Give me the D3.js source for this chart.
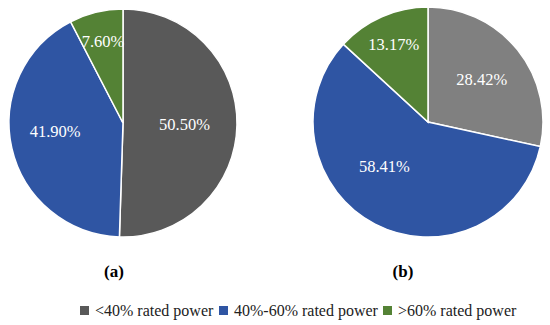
<!DOCTYPE html>
<html>
<head>
<meta charset="utf-8">
<script src="https://cdn.jsdelivr.net/npm/d3@7"></script>
<style>
  body { margin: 0; background: #fff; }
</style>
</head>
<body>
<script>
// data
const categories = ["<40% rated power", "40%-60% rated power", ">60% rated power"];
const valuesA = [50.50, 41.90, 7.60];
const valuesB = [28.42, 58.41, 13.17];
const panelLabels = ["(a)", "(b)"];

const width = 550;
const height = 325;
const font = "'Liberation Serif', 'Times New Roman', serif";

const svg = d3.select('body').append('svg')
    .attr('width', width).attr('height', height)
    .attr('font-family', font);

const colorsA = ["#595959", "#2F55A3", "#548235"];
const colorsB = ["#808080", "#2F55A3", "#548235"];

const pie = d3.pie().sort(null).value(d => d);

function drawPie(values, colors, cx, cy, r, panel, panelX) {
    const g = svg.append('g').attr('transform', `translate(${cx},${cy})`);
    const arc = d3.arc().innerRadius(0).outerRadius(r);
    const arcs = pie(values);

    g.selectAll('path').data(arcs).enter().append('path')
        .attr('d', arc)
        .attr('fill', (d, i) => colors[i])
        .attr('stroke', '#fff').attr('stroke-width', 1.5);

    // 标签位置：小扇区靠外
    g.selectAll('text.lbl').data(arcs).enter().append('text')
        .attr('class', 'lbl')
        .attr('transform', d => {
            const k = d.value < 20 ? 0.74 : (d.value < 45 ? 0.6 : 0.54);
            const a = (d.startAngle + d.endAngle) / 2 + (d.value > 55 ? 0.3 : (d.value < 45 && d.value > 20 && d.index === 1 ? 0.1 : 0));
            return `translate(${Math.sin(a) * r * k},${-Math.cos(a) * r * k})`;
        })
        .attr('text-anchor', 'middle').attr('dy', '0.35em')
        .attr('fill', '#fff').attr('font-size', 16.5)
        .attr('font-family', font)
        .text(d => d.value.toFixed(2) + '%');

    svg.append('text')
        .attr('x', panelX).attr('y', 277)
        .attr('text-anchor', 'middle')
        .attr('font-size', 17).attr('font-weight', 'bold')
        .attr('font-family', font)
        .text(panel);
}

drawPie(valuesA, colorsA, 123, 123, 114, panelLabels[0], 114);
drawPie(valuesB, colorsB, 428, 122, 115, panelLabels[1], 403);

// legend
const legendX = [80, 219, 383];
const legend = svg.append('g');
categories.forEach((c, i) => {
    legend.append('rect')
        .attr('x', legendX[i]).attr('y', 306)
        .attr('width', 9).attr('height', 9)
        .attr('fill', colorsA[i]);
    legend.append('text')
        .attr('x', legendX[i] + 15).attr('y', 316)
        .attr('font-size', 16).attr('fill', '#222')
        .attr('font-family', font)
        .text(c);
});
</script>
</body>
</html>
